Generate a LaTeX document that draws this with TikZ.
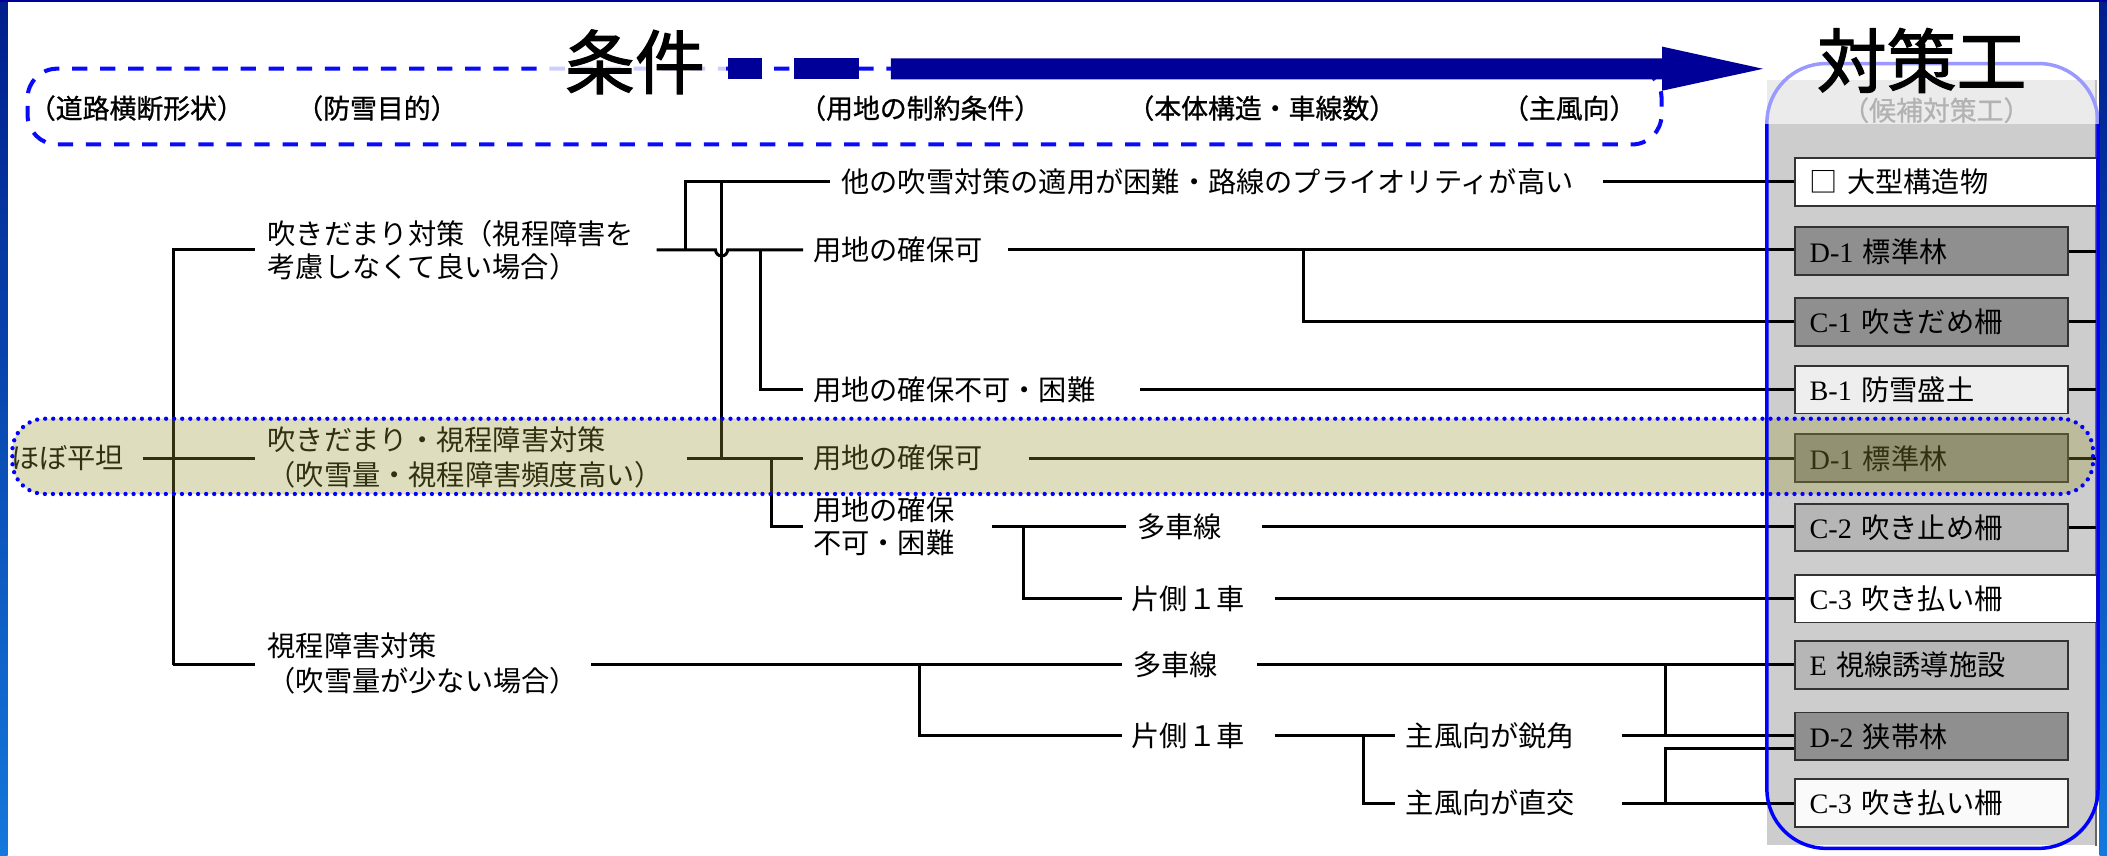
\documentclass[tikz,border=0pt]{standalone}
\usepackage{fontspec}
\setmainfont{Noto Sans CJK JP}
\newfontfamily\lat{Liberation Serif}
\newfontfamily\titlefont[FakeBold=1.6]{Noto Sans CJK JP}
\newfontfamily\hdrfont[FakeBold=0.9]{Noto Sans CJK JP}
\usetikzlibrary{calc}
\definecolor{navy}{RGB}{0,0,153}
\definecolor{dblue}{RGB}{10,10,250}
\definecolor{bandolive}{RGB}{155,155,55}
\definecolor{panelgrey}{RGB}{205,205,205}
\definecolor{striptop}{RGB}{0,30,140}
\definecolor{stripbot}{RGB}{20,120,220}
\definecolor{dkbox}{RGB}{143,143,143}
\definecolor{mdbox}{RGB}{182,182,182}
\definecolor{ltbox}{RGB}{238,238,238}
\begin{document}
\begin{tikzpicture}[x=1pt,y=-1pt,
  conn/.style={line width=2.2pt, black},
  body/.style={font=\fontsize{21}{24.5}\selectfont, inner sep=0pt, anchor=west, align=left},
  bodyw/.style={font=\fontsize{21}{26}\selectfont, inner sep=0pt, anchor=west, align=left},
  hdr/.style={font=\hdrfont\fontsize{20}{24}\selectfont, inner sep=0pt},
  titletext/.style={font=\titlefont\fontsize{52}{60}\selectfont, inner xsep=16pt, inner ysep=2pt},
  cbox/.style={draw=black!80, line width=1.4pt, minimum height=35.5pt, inner xsep=11pt, inner ysep=0pt, anchor=west, align=left, text width=181.5pt, font=\fontsize{21}{25}\selectfont},
  cboxw/.style={cbox, text width=202.6pt},
]
\useasboundingbox (0,0) rectangle (1568,637);
\fill[white] (0,0) rectangle (1568,637);

% slide frame
\shade[top color=striptop, bottom color=stripbot] (0,0) rectangle (5.7,637);
\shade[top color=striptop, bottom color=stripbot] (1562.5,0) rectangle (1568,637);
\fill[navy] (0,0) rectangle (1568,1.5);

% candidate panel
\node[fill=panelgrey, minimum width=245.1pt, minimum height=569.5pt, inner sep=0pt, anchor=north west] (panel) at (1314.5,59.5) {};
\draw[black!60, line width=1.5pt] (panel.north east) -- (panel.south east);

% countermeasure boxes
\node[cboxw, fill=white] (b1) at (1335,135.5) {□ 大型構造物};
\node[cbox, fill=dkbox] (b2) at (1335,187) {{\lat D-1 }標準林};
\node[cbox, fill=dkbox] (b3) at (1335,239.5) {{\lat C-1 }吹きだめ柵};
\node[cbox, fill=ltbox] (b4) at (1335,290) {{\lat B-1 }防雪盛土};
\node[cbox, fill=dkbox] (b5) at (1335,341) {{\lat D-1 }標準林};
\node[cbox, fill=mdbox] (b6) at (1335,392.5) {{\lat C-2 }吹き止め柵};
\node[cboxw, fill=white] (b7) at (1335,445.5) {{\lat C-3 }吹き払い柵};
\node[cbox, fill=mdbox] (b8) at (1335,495) {{\lat E }視線誘導施設};
\node[cbox, fill=dkbox] (b9) at (1335,548) {{\lat D-2 }狭帯林};
\node[cbox, fill=white!98!black] (b10) at (1335,597.5) {{\lat C-3 }吹き払い柵};
\foreach \b in {b2,b3,b4,b5,b6} \draw[conn] (\b.east) -- (\b.east -| panel.east);

% tree nodes
\node[body] (heitan) at (8,341) {ほぼ平坦};
\node[body] (fuki) at (199,186.3) {吹きだまり対策（視程障害を\\考慮しなくて良い場合）};
\node[bodyw] (both) at (199,340.4) {吹きだまり・視程障害対策\\（吹雪量・視程障害頻度高い）};
\node[bodyw] (vis) at (199,494) {視程障害対策\\（吹雪量が少ない場合）};

\node[body] (other) at (626,135) {他の吹雪対策の適用が困難・路線のプライオリティが高い};
\node[body] (ok1) at (605,186) {用地の確保可};
\node[body] (ng1) at (605,290) {用地の確保不可・困難};
\node[body] (ok2) at (605,341) {用地の確保可};
\node[body] (ng2) at (605,392) {用地の確保\\不可・困難};
\node[body] (multi1) at (846,392) {多車線};
\node[body] (one1) at (842,445.7) {片側１車};
\node[body] (multi2) at (843,494.8) {多車線};
\node[body] (one2) at (842,547.6) {片側１車};
\node[body] (acute) at (1046,547.6) {主風向が鋭角};
\node[body] (perp) at (1046,597.6) {主風向が直交};

% junction coordinates
\coordinate (jt) at (129,186);
\coordinate (jb) at (129,494.8);
\coordinate (ja) at (510,186);
\coordinate (jh) at (537,186);
\coordinate (jc) at (566,186);
\coordinate (jd) at (574,341);
\coordinate (je) at (762,392);
\coordinate (jf) at (684.5,494.8);
\coordinate (jg) at (1015,547.6);
\coordinate (jk) at (970,186);
\coordinate (jm) at (1239.6,547.6);
\coordinate (jn) at (1239.6,597.6);
\coordinate (jn2) at (1239.6,557);

% left tree
\draw[conn, shorten >=9pt] (jb) -- (jt) -- (jt -| fuki.west);
\draw[conn, shorten >=9pt] (jb) -- (jb -| vis.west);
\draw[conn, shorten <=13.7pt, shorten >=9pt] (heitan.east) -- (heitan.east -| both.west);

% upper group
\draw[conn, shorten <=16.6pt, shorten >=7.4pt] (fuki.east |- ja) -- ($(jh)+(-4.5,0)$) arc[start angle=180, end angle=0, radius=4.5] -- (jc) -- (jc -| ok1.west);
\draw[conn, shorten >=8.4pt] (ja) -- (ja |- other.west) -- (other.west);
\draw[conn] (jh |- other.west) -- (jh |- ok2.west);
\draw[conn, shorten >=7.4pt] (jc) -- (jc |- ng1.west) -- (ng1.west);

% middle group
\draw[conn, shorten <=18pt, shorten >=7.4pt] (both.east |- ok2.west) -- (ok2.west);
\draw[conn, shorten >=7.4pt] (jd) -- (jd |- ng2.west) -- (ng2.west);
\draw[conn, shorten <=28pt, shorten >=8pt] (ng2.east) -- (multi1.west);
\draw[conn, shorten >=7.4pt] (je) -- (je |- one1.west) -- (one1.west);

% lower group
\draw[conn, shorten <=9.6pt, shorten >=8.4pt] (vis.east |- multi2.west) -- (multi2.west);
\draw[conn, shorten >=7.4pt] (jf) -- (jf |- one2.west) -- (one2.west);
\draw[conn, shorten <=22.4pt, shorten >=8pt] (one2.east) -- (acute.west);
\draw[conn, shorten >=8pt] (jg) -- (jg |- perp.west) -- (perp.west);

% to countermeasures
\draw[conn, shorten <=22pt] (other.east) -- (other.east -| b1.west);
\draw[conn, shorten <=19pt] (ok1.east) -- (ok1.east -| b2.west);
\draw[conn] (jk) -- (jk |- b3.west) -- (b3.west);
\draw[conn, shorten <=33pt] (ng1.east) -- (ng1.east -| b4.west);
\draw[conn, shorten <=34pt] (ok2.east) -- (ok2.east -| b5.west);
\draw[conn, shorten <=30pt] (multi1.east) -- (multi1.east -| b6.west);
\draw[conn, shorten <=22.4pt] (one1.east) -- (one1.east -| b7.west);
\draw[conn, shorten <=29pt] (multi2.east) -- (multi2.east -| b8.west);
\draw[conn, shorten <=34.5pt] (acute.east) -- (acute.east -| b9.west);
\draw[conn] (jm) -- (jm |- multi2.west);
\draw[conn, shorten <=34.5pt] (perp.east) -- (perp.east -| b10.west);
\draw[conn] (jn) -- (jn2) -- (jn2 -| b9.west);

% highlight band
\node[fill=bandolive, fill opacity=0.32, draw=blue, draw opacity=1, line width=3.2pt, dash pattern=on 0pt off 6pt, line cap=round, rounded corners=24pt, minimum width=1548.4pt, minimum height=56pt, inner sep=0pt, anchor=north west] (band) at (7.6,310) {};

% blue frame of countermeasures
\node[draw=blue, line width=2.6pt, rounded corners=44pt, minimum width=246.4pt, minimum height=584pt, inner sep=0pt, anchor=north west] (frame) at (1313.6,46) {};
\fill[white, opacity=0.6] (1311,38) rectangle (1562,92);
\node[hdr, text=black!30] (cand) at (1441,82) {（候補対策工）};

% conditions box
\node[draw=dblue, line width=3pt, dash pattern=on 11.4pt off 9.5pt, rounded corners=22pt, minimum width=1216pt, minimum height=56.4pt, inner sep=0pt, anchor=north west] (cond) at (19,49.6) {};
\node[hdr] (h1) at (101.5,80.5) {（道路横断形状）};
\node[hdr] (h2) at (280.5,80.5) {（防雪目的）};
\node[hdr] (h3) at (684.8,80.5) {（用地の制約条件）};
\node[hdr] (h4) at (939,80.5) {（本体構造・車線数）};
\node[hdr] (h5) at (1167.8,80.5) {（主風向）};

% titles and arrow
\node[titletext, fill=white, fill opacity=0.8, text opacity=1] (t1) at (472.5,46) {条件};
\fill[navy] (542,43.5) rectangle (567,59);
\fill[navy] (591,43.5) rectangle (639,59);
\fill[navy] (663,43.5) -- (1237,43.5) -- (1237,34.7) -- (1312,51.2) -- (1237,67.5) -- (1237,59) -- (663,59) -- cycle;
\node[titletext] (t2) at (1430,45) {対策工};
\end{tikzpicture}
\end{document}
